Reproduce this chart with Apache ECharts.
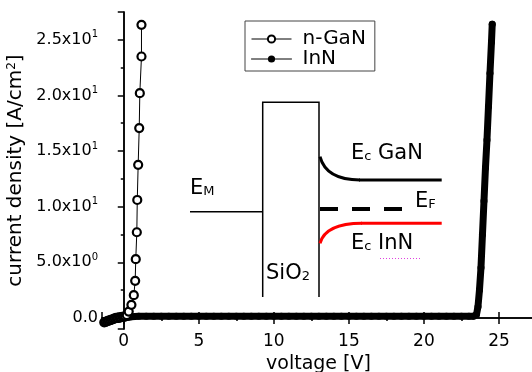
<!DOCTYPE html>
<html>
<head>
<meta charset="utf-8">
<script src="https://cdn.jsdelivr.net/npm/echarts@6.0.0/dist/echarts.min.js"></script>
<style>
  html, body { margin: 0; padding: 0; background: #fff; }
  #main { width: 532px; height: 372px; }
</style>
</head>
<body>
<div id="main"></div>
<script>
// n-GaN (open circles)
const ganV = [-1.3, -1.2, -1.1, -1.0, -0.9, -0.8, -0.7, -0.6, -0.5, -0.4, -0.3, -0.2, -0.1, 0.0, 0.1, 0.2,
  0.33, 0.51, 0.67, 0.76, 0.80, 0.87, 0.90, 0.96, 1.03, 1.07, 1.18, 1.18];
const ganJ = [-0.4, -0.35, -0.3, -0.25, -0.2, -0.15, -0.1, -0.05, 0.0, 0.0, 0.05, 0.05, 0.1, 0.1, 0.15, 0.25,
  0.57, 1.17, 2.04, 3.33, 5.28, 7.7, 10.6, 13.76, 17.06, 20.2, 23.5, 26.35];

// InN (filled dots)
const innV = [-1.3, -1.1, -0.9, -0.7, -0.5, -0.3, -0.1, 0.1, 0.3, 0.5,
  1.0, 1.5, 2.0, 2.5, 3.0, 3.5, 4.0, 4.5, 5.0, 5.5, 6.0, 6.5, 7.0, 7.5, 8.0, 8.5, 9.0, 9.5,
  10.0, 10.5, 11.0, 11.5, 12.0, 12.5, 13.0, 13.5, 14.0, 14.5, 15.0, 15.5, 16.0, 16.5, 17.0, 17.5,
  18.0, 18.5, 19.0, 19.5, 20.0, 20.5, 21.0, 21.5, 22.0, 22.5, 23.0, 23.3, 23.5,
  23.6, 23.7, 23.8, 23.9, 24.0, 24.1, 24.2, 24.3, 24.4, 24.5, 24.55];
const innJ = [-0.35, -0.35, -0.3, -0.2, -0.15, -0.1, -0.05, 0.0, 0.05, 0.1,
  0.15, 0.15, 0.15, 0.15, 0.15, 0.15, 0.15, 0.15, 0.15, 0.15, 0.15, 0.15, 0.15, 0.15, 0.15, 0.15, 0.15, 0.15,
  0.15, 0.15, 0.15, 0.15, 0.15, 0.15, 0.15, 0.15, 0.15, 0.15, 0.15, 0.15, 0.15, 0.15, 0.15, 0.15,
  0.15, 0.15, 0.15, 0.15, 0.15, 0.15, 0.15, 0.15, 0.15, 0.15, 0.15, 0.15, 0.3,
  1.0, 2.5, 4.5, 7.5, 10.5, 13.5, 16.0, 19.0, 22.0, 24.8, 26.4];

const seriesNames = ['n-GaN', 'InN'];
const xRange = [-1.45, 27.4];
const yRange = [-1, 27.5];

const FONT = 'DejaVu Sans';

function zip(a, b) { return a.map((v, i) => [v, b[i]]); }

function yLabel(v) {
  if (v === 0) return '0.0';
  const e = Math.floor(Math.log10(Math.abs(v)));
  const m = (v / Math.pow(10, e)).toFixed(1);
  return '{m|' + m + 'x10}{e|' + e + '}';
}

const chart = echarts.init(document.getElementById('main'));

const axisLine = { show: true, lineStyle: { color: '#000', width: 1.5 } };
const big = { fontFamily: FONT, fontSize: 21, fill: '#000', verticalAlign: 'bottom', lineHeight: 26 };
const sub = { fontFamily: FONT, fontSize: 13, fill: '#000', verticalAlign: 'bottom', lineHeight: 26, padding: [0, 0, 1, 0] };

chart.setOption({
  backgroundColor: '#fff',
  animation: false,
  textStyle: { fontFamily: FONT, color: '#000' },
  grid: { left: 102, top: 12, width: 433, bottom: 43, outerBoundsMode: 'none', containLabel: false },
  legend: {
    data: seriesNames,
    orient: 'vertical',
    left: 245,
    top: 21,
    padding: [8, 9, 2, 6],
    itemGap: 0,
    itemWidth: 40,
    itemHeight: 9,
    borderColor: '#444',
    borderWidth: 1,
    textStyle: { fontFamily: FONT, fontSize: 20, color: '#000', padding: [0, 0, 0, 6] },
    lineStyle: { width: 1, color: '#000' }
  },
  xAxis: [{
    type: 'value', min: xRange[0], max: xRange[1], splitNumber: 6,
    name: 'voltage [V]', nameLocation: 'middle', nameGap: 19,
    nameTextStyle: { fontFamily: FONT, fontSize: 19, color: '#000' },
    axisLine: axisLine,
    axisTick: { inside: true, length: 6, lineStyle: { color: '#000', width: 1.5 } },
    minorTick: { show: true, splitNumber: 2, length: 3, lineStyle: { color: '#000', width: 1.5 } },
    splitLine: { show: false },
    axisLabel: { fontFamily: FONT, fontSize: 17, color: '#000', margin: 4, showMinLabel: false, showMaxLabel: false }
  }, {
    type: 'value', position: 'top', min: xRange[0], max: xRange[1], splitNumber: 6,
    axisLine: axisLine,
    axisTick: { inside: true, length: 6, lineStyle: { color: '#000', width: 1.5 } },
    minorTick: { show: true, splitNumber: 2, length: 3, lineStyle: { color: '#000', width: 1.5 } },
    splitLine: { show: false },
    axisLabel: { show: false }
  }],
  yAxis: [{
    type: 'value', min: yRange[0], max: yRange[1], splitNumber: 6,
    name: 'current density [A/cm{s|2}]', nameLocation: 'middle', nameGap: 67,
    nameTextStyle: {
      fontFamily: FONT, fontSize: 20, color: '#000',
      rich: { s: { fontFamily: FONT, fontSize: 12, verticalAlign: 'top', lineHeight: 12, color: '#000' } }
    },
    axisLine: axisLine,
    axisTick: { inside: false, length: 5, lineStyle: { color: '#000', width: 1.5 } },
    minorTick: { show: true, splitNumber: 2, length: 3, lineStyle: { color: '#000', width: 1.5 } },
    splitLine: { show: false },
    axisLabel: {
      fontFamily: FONT, fontSize: 16, color: '#000', margin: 4,
      showMinLabel: false, showMaxLabel: false,
      formatter: yLabel,
      rich: {
        m: { fontFamily: FONT, fontSize: 16, color: '#000', lineHeight: 20 },
        e: { fontFamily: FONT, fontSize: 10, color: '#000', verticalAlign: 'top', lineHeight: 10 }
      }
    }
  }, {
    type: 'value', position: 'right', min: yRange[0], max: yRange[1], splitNumber: 6,
    axisLine: axisLine,
    axisTick: { inside: true, length: 6, lineStyle: { color: '#000', width: 1.5 } },
    minorTick: { show: true, splitNumber: 2, length: 3, lineStyle: { color: '#000', width: 1.5 } },
    splitLine: { show: false },
    axisLabel: { show: false }
  }],
  series: [{
    name: 'InN',
    type: 'line',
    data: zip(innV, innJ),
    symbol: 'circle',
    symbolSize: 7,
    showSymbol: true,
    itemStyle: { color: '#000' },
    lineStyle: { color: '#000', width: 7, cap: 'round', join: 'round' },
    z: 2
  }, {
    name: 'n-GaN',
    type: 'line',
    data: zip(ganV, ganJ),
    symbol: 'circle',
    symbolSize: 8,
    showSymbol: true,
    itemStyle: { color: '#fff', borderColor: '#000', borderWidth: 2.2 },
    lineStyle: { color: '#000', width: 1 },
    z: 3
  }],
  // band-diagram inset (illustration, not data)
  graphic: [
    { type: 'polyline', shape: { points: [[190, 211.7], [262.7, 211.7]] }, style: { stroke: '#000', lineWidth: 1.5, fill: null } },
    { type: 'polyline', shape: { points: [[262.7, 297], [262.7, 102.3], [319, 102.3], [319, 297]] }, style: { stroke: '#000', lineWidth: 1.5, fill: null } },
    { type: 'bezierCurve', shape: { x1: 320, y1: 156.7, cpx1: 324, cpy1: 172, cpx2: 338, cpy2: 180, x2: 360, y2: 180 }, style: { stroke: '#000', lineWidth: 3, fill: null } },
    { type: 'line', shape: { x1: 359, y1: 180, x2: 441.7, y2: 180 }, style: { stroke: '#000', lineWidth: 3 } },
    { type: 'bezierCurve', shape: { x1: 320, y1: 243.3, cpx1: 324, cpy1: 229, cpx2: 338, cpy2: 223.3, x2: 362, y2: 223.3 }, style: { stroke: '#ff0000', lineWidth: 3, fill: null } },
    { type: 'line', shape: { x1: 361, y1: 223.3, x2: 441.7, y2: 223.3 }, style: { stroke: '#ff0000', lineWidth: 3 } },
    { type: 'line', shape: { x1: 320, y1: 209, x2: 403, y2: 209 }, style: { stroke: '#000', lineWidth: 4, lineDash: [18, 14] } },
    { type: 'line', shape: { x1: 380, y1: 258.5, x2: 420, y2: 258.5 }, style: { stroke: '#e040e0', lineWidth: 1, lineDash: [1, 2] } },
    { type: 'text', left: 190, top: 178, style: { text: '{b|E}{s|M}', rich: { b: big, s: sub } } },
    { type: 'text', left: 415, top: 191, style: { text: '{b|E}{s|F}', rich: { b: big, s: sub } } },
    { type: 'text', left: 351, top: 143, style: { text: '{b|E}{s|c}{b| GaN}', rich: { b: big, s: sub } } },
    { type: 'text', left: 351, top: 233, style: { text: '{b|E}{s|c}{b| InN}', rich: { b: big, s: sub } } },
    { type: 'text', left: 266, top: 263, style: { text: '{b|SiO}{s|2}', rich: { b: big, s: sub } } }
  ]
});
</script>
</body>
</html>
